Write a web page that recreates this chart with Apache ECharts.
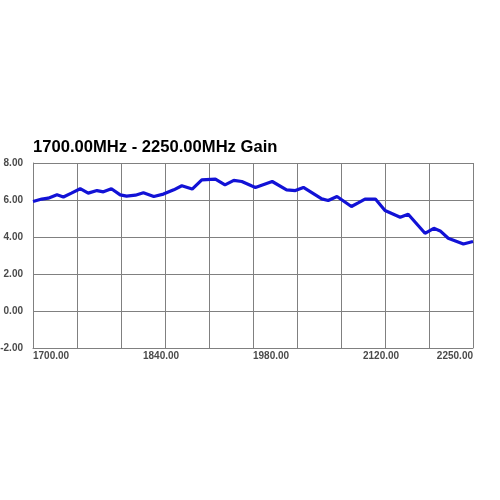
<!DOCTYPE html>
<html>
<head>
<meta charset="utf-8">
<script src="https://cdn.jsdelivr.net/npm/echarts@6/dist/echarts.min.js"></script>
<style>html,body{margin:0;padding:0;background:#fff}#c{width:500px;height:500px}</style>
</head>
<body>
<div id="c"></div>
<script>
var title = '1700.00MHz - 2250.00MHz Gain';
var freqs = [1700,1711,1719,1730,1738,1748,1759,1769,1780,1788,1798,1809,1817,1828,1838,1851,1863,1876,1886,1899,1911,1928,1940,1951,1961,1973,1978,1999,2017,2028,2038,2061,2069,2080,2098,2107,2115,2128,2140,2159,2169,2190,2201,2209,2219,2238,2250];
var gains = [5.92,6.05,6.10,6.28,6.16,6.37,6.61,6.37,6.51,6.44,6.61,6.28,6.21,6.26,6.39,6.19,6.32,6.55,6.77,6.59,7.09,7.13,6.82,7.06,7.00,6.77,6.68,7.00,6.55,6.51,6.68,6.06,5.97,6.19,5.65,5.86,6.05,6.05,5.43,5.07,5.23,4.20,4.47,4.33,3.93,3.62,3.76];
var xTickLabels = ['1700.00','1840.00','1980.00','2120.00','2250.00'];
var yMin = -2, yMax = 8, yStep = 2;

var data = freqs.map(function(f,i){return [f,gains[i]];});
var chart = echarts.init(document.getElementById('c'));
var gridCol = '#808080';
var lblStyle = {color:'#4a4a4a', fontFamily:'Arial, "Liberation Sans", sans-serif', fontWeight:'bold', fontSize:10};
chart.setOption({
  animation:false,
  backgroundColor:'#ffffff',
  title:{text:title, left:33, top:139, padding:0,
    textStyle:{color:'#000', fontFamily:'Arial, "Liberation Sans", sans-serif', fontWeight:'bold', fontSize:16.6}},
  grid:{left:33, right:27, top:163, bottom:152, containLabel:false, outerBoundsMode:'none'},
  xAxis:[{
    type:'value', min:1700, max:2250, interval:55,
    axisLine:{show:true, onZero:false, lineStyle:{color:gridCol, width:1}},
    axisTick:{show:false}, axisLabel:{show:false},
    splitLine:{show:true, lineStyle:{color:gridCol, width:1}}
  },{
    type:'value', min:1700, max:2250, interval:137.5, position:'bottom',
    axisLine:{show:false}, axisTick:{show:false}, splitLine:{show:false},
    axisLabel:Object.assign({show:true, margin:3, align:'left', alignMaxLabel:'right', showMinLabel:true, showMaxLabel:true,
      formatter:function(v){var i=Math.round((v-1700)/137.5);return xTickLabels[i]||'';}}, lblStyle)
  }],
  yAxis:{
    type:'value', min:yMin, max:yMax, interval:yStep,
    axisLine:{show:true, onZero:false, lineStyle:{color:gridCol, width:1}},
    axisTick:{show:false},
    splitLine:{show:true, lineStyle:{color:gridCol, width:1}},
    axisLabel:Object.assign({margin:10, padding:[0,0,6,0], formatter:function(v){return v.toFixed(2);}}, lblStyle)
  },
  series:[{
    type:'line', xAxisIndex:0, data:data, showSymbol:false, symbol:'none',
    lineStyle:{color:'#1212d6', width:3.2}
  }]
});
</script>
</body>
</html>
